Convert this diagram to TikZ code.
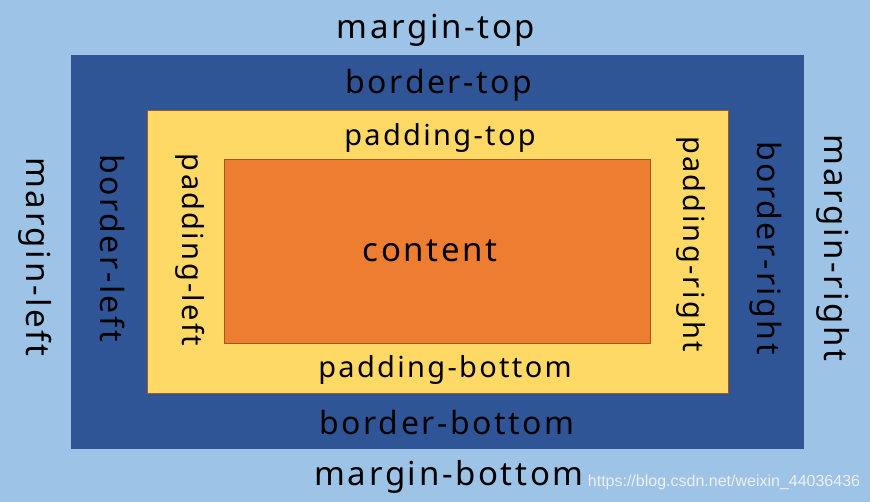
\documentclass[tikz,border=0pt]{standalone}
\usepackage{fontspec}
\setmainfont[LetterSpace=8]{Noto Sans}
\newfontfamily\markfont{Liberation Sans}
\definecolor{marginbg}{HTML}{9DC3E6}
\definecolor{borderbg}{HTML}{2F5597}
\definecolor{paddingbg}{HTML}{FFD966}
\definecolor{contentbg}{HTML}{ED7D31}
\definecolor{edgeline}{HTML}{A05A1E}

\begin{document}
\begin{tikzpicture}
  [x=1pt,y=-1pt,every node/.style={font=\fontsize{33}{33}\selectfont,inner sep=0pt},
   padtext/.style={font=\fontsize{29}{29}\selectfont},
   bordtext/.style={font=\fontsize{32}{32}\selectfont}]
  \fill[marginbg] (0,0) rectangle (870,502);
  \fill[borderbg] (71,55) rectangle (804,449);
  \filldraw[fill=paddingbg,draw=edgeline,line width=1pt] (147,111) rectangle (728,394);
  \filldraw[fill=contentbg,draw=edgeline,line width=1pt] (224,160) rectangle (650,344);

  \node (mt) at (436,30) {margin-top};
  \node[bordtext] (bt) at (439,85) {border-top};
  \node[padtext] (pt) at (440,138) {padding-top};
  \node (ct) at (430,251) {content};
  \node[padtext] (pb) at (445,370) {padding-bottom};
  \node[bordtext] (bb) at (447,422) {border-bottom};
  \node (mb) at (449,477) {margin-bottom};

  \foreach \name/\x/\y/\txt/\sty in {ml/35/257/margin-left/,bl/113/248/border-left/bordtext,
      pl/190/250/padding-left/padtext,pr/691/244/padding-right/padtext,
      br/766/248/border-right/bordtext,mr/833/248/margin-right/}
    \node[rotate=-90,\sty] (\name) at (\x,\y) {\txt};

  \node[font=\markfont\fontsize{16}{16}\selectfont,text=white!88!gray] (wm) at (724,482) {https://blog.csdn.net/weixin\_44036436};
\end{tikzpicture}
\end{document}
